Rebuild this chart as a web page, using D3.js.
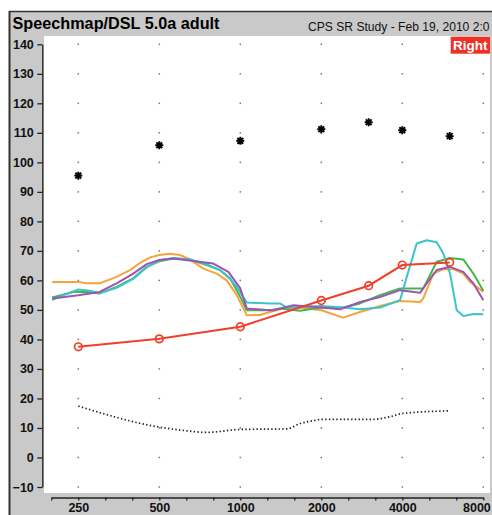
<!DOCTYPE html>
<html><head><meta charset="utf-8">
<script src="https://cdn.jsdelivr.net/npm/d3@7"></script>
<style>html,body{margin:0;padding:0;background:#fff;overflow:hidden}svg{display:block}</style>
</head><body>
<svg id="chart" width="492" height="515"></svg>
<script>
// ---------- data ----------
const titleText = "Speechmap/DSL 5.0a adult";
const subtitleText = "CPS SR Study - Feb 19, 2010 2:0";
const earLabel = "Right";
const yTicks = [-10,0,10,20,30,40,50,60,70,80,90,100,110,120,130,140];
const xLabels = [250,500,1000,2000,4000,8000];
const xMinorTicks = d3.range(-1,16).map(k => 250*Math.pow(2,k/3));

const orangeCurve = [[200,59.5],[250,59.5],[268,59.0],[300,59.0],[347,61.2],[389,63.5],[424,65.9],[462,67.8],[500,68.6],[548,69.0],[597,68.6],[650,67.1],[729,64.0],[817,62.3],[890,60.0],[970,55.0],[1057,48.2],[1184,48.3],[1290,49.3],[1404,50.2],[1667,50.8],[2000,49.9],[2414,47.4],[2786,49.3],[3306,51.3],[3923,53.0],[4656,52.7],[4788,53.9],[5217,62.3],[5682,63.8],[6190,63.8],[6742,62.3],[7140,59.5],[8000,56.1]];
const greenCurve = [[200,54.2],[240,56.1],[268,56.1],[300,55.6],[347,57.8],[400,60.7],[449,64.6],[500,66.5],[564,67.4],[650,67.1],[750,65.2],[840,63.5],[916,60.7],[1000,54.4],[1057,49.9],[1290,49.9],[1404,50.5],[1667,49.7],[2000,50.8],[2414,50.8],[2786,52.2],[3306,55.0],[3923,57.3],[4788,57.3],[5372,66.3],[6018,67.6],[6742,67.1],[7345,62.3],[8000,56.5]];
const cyanCurve = [[200,53.3],[220,55.0],[250,56.9],[276,56.5],[300,55.6],[347,57.5],[400,60.5],[449,64.5],[500,66.8],[564,67.6],[650,67.1],[750,65.5],[840,63.5],[916,60.5],[970,57.8],[1057,52.5],[1290,52.2],[1404,52.2],[1488,50.8],[2000,51.3],[2414,50.8],[2786,50.2],[3306,50.8],[3923,53.3],[4155,61.2],[4525,72.5],[4928,73.6],[5372,72.9],[5682,69.1],[6018,62.3],[6372,49.9],[6742,47.9],[7345,48.6],[8000,48.5]];
const purpleCurve = [[200,53.9],[250,55.0],[300,56.1],[347,59.0],[400,62.3],[449,65.5],[500,66.9],[564,67.4],[668,66.6],[794,65.7],[903,62.9],[1000,57.3],[1057,50.5],[1290,49.9],[1326,49.9],[1574,51.6],[2000,50.8],[2347,50.2],[2786,52.7],[3306,54.4],[3923,56.7],[4656,55.8],[4928,59.0],[5372,63.5],[6018,64.6],[6742,62.9],[7345,59.0],[8000,53.3]];
const targetFreqs = [250,500,1000,2000,3000,4000,6000];
const targetValues = [37.5,40.2,44.3,53.2,58.2,65.2,66.1];
const uclValues = [95.5,105.8,107.3,111.2,113.6,110.9,108.9];
const thresholdCurve = [[250,17.4],[500,10.3],[610,9.2],[750,8.5],[1000,9.5],[1490,9.7],[1667,11.5],[1874,12.5],[2000,12.9],[3055,12.9],[3600,13.8],[4000,14.9],[6000,15.8]];

// ---------- layout ----------
const svg = d3.select("#chart");
const plot = {x0:44, y0:36, x1:490, y1:493};
const x = d3.scaleLog().base(2).domain([250*Math.pow(2,-1/3), 8000]).range([51.3, 483.3]);
const y = d3.scaleLinear().domain([-10,140]).range([487, 44.3]);
const gray = "#c9c9c9";
const font = "Liberation Sans, Arial, sans-serif";

// frame
svg.append("rect").attr("x",9).attr("y",11).attr("width",490).attr("height",510).attr("fill",gray);
svg.append("line").attr("x1",9).attr("x2",492).attr("y1",11.5).attr("y2",11.5).attr("stroke","#333").attr("stroke-width",1.5);
svg.append("line").attr("x1",9.5).attr("x2",9.5).attr("y1",11).attr("y2",515).attr("stroke","#333").attr("stroke-width",2);
svg.append("rect").attr("x",plot.x0).attr("y",plot.y0).attr("width",plot.x1-plot.x0).attr("height",plot.y1-plot.y0).attr("fill","#fff");

// header text
svg.append("text").attr("x",12.5).attr("y",29).attr("font-family",font).attr("font-weight","bold").attr("font-size",16.5)
  .attr("textLength",207).attr("lengthAdjust","spacingAndGlyphs").attr("fill","#000").text(titleText);
svg.append("text").attr("x",308).attr("y",31).attr("font-family",font).attr("font-size",12.1)
  .attr("fill","#111").text(subtitleText);

// clip
svg.append("clipPath").attr("id","clip").append("rect").attr("x",plot.x0).attr("y",plot.y0).attr("width",plot.x1-plot.x0).attr("height",plot.y1-plot.y0);

// grid dots
const gridG = svg.append("g");
const gridPts = [];
xLabels.forEach(f => yTicks.forEach(v => gridPts.push([f,v])));
gridG.selectAll("rect").data(gridPts).join("rect")
  .attr("x", d => x(d[0]) - 0.75).attr("y", d => y(d[1]) - 0.75)
  .attr("width",1.5).attr("height",1.5).attr("fill","#777");

// axes
const yAxis = svg.append("g").attr("transform","translate(42.3,0)")
  .call(d3.axisLeft(y).tickValues(yTicks).tickSize(5).tickSizeOuter(0).tickFormat(d3.format("d")));
yAxis.selectAll("path,line").attr("stroke","#222").attr("stroke-width",1.3);
yAxis.selectAll("text").attr("font-family",font).attr("font-weight","bold").attr("font-size",12.5).attr("fill","#111").attr("x",-8.5);

const xAxis = svg.append("g").attr("transform","translate(0,497.5)")
  .call(d3.axisBottom(x).tickValues(xMinorTicks).tickSize(3).tickSizeOuter(0)
    .tickFormat(d => { const m = xLabels.find(v => Math.abs(v - d) < 1); return m ? String(m) : ""; }));
xAxis.selectAll("path,line").attr("stroke","#222").attr("stroke-width",1.3);
xAxis.selectAll("text").attr("font-family",font).attr("font-weight","bold").attr("font-size",12.5).attr("fill","#111").attr("y",14).attr("dy",0);
xAxis.selectAll("text").filter(d => Math.abs(d - 8000) < 1).attr("text-anchor","end").attr("dx",7);

// curves
const g = svg.append("g").attr("clip-path","url(#clip)");
const line = d3.line().x(d => x(d[0])).y(d => y(d[1]));
g.append("path").datum(thresholdCurve).attr("d", line.curve(d3.curveMonotoneX)).attr("fill","none")
  .attr("stroke","#222").attr("stroke-width",1.7).attr("stroke-dasharray","1.4 2.3");
line.curve(d3.curveLinear);
const curves = [[orangeCurve,"#f8a33a"],[greenCurve,"#44b54a"],[cyanCurve,"#3cc3cb"],[purpleCurve,"#9b56b3"]];
curves.forEach(([data,col]) => {
  g.append("path").datum(data).attr("d", line).attr("fill","none").attr("stroke",col).attr("stroke-width",2).attr("stroke-linejoin","round");
});
const targets = targetFreqs.map((f,i) => [f, targetValues[i]]);
g.append("path").datum(targets).attr("d", line).attr("fill","none").attr("stroke","#f0402a").attr("stroke-width",2);
g.selectAll("circle.t").data(targets).join("circle").attr("class","t")
  .attr("cx", d => x(d[0])).attr("cy", d => y(d[1])).attr("r",3.8)
  .attr("fill","none").attr("stroke","#f0402a").attr("stroke-width",1.7);

// asterisks
const star = "M-4,0H4M0,-4V4M-2.9,-2.9L2.9,2.9M-2.9,2.9L2.9,-2.9";
g.selectAll("path.ucl").data(targetFreqs.map((f,i) => [f, uclValues[i]])).join("path").attr("class","ucl")
  .attr("d", star).attr("transform", d => `translate(${x(d[0])},${y(d[1])})`)
  .attr("stroke","#000").attr("stroke-width",1.9).attr("fill","none");

// ear box
svg.append("rect").attr("x",450.7).attr("y",36.7).attr("width",39.3).attr("height",17).attr("fill","#ee3124");
svg.append("text").attr("x",470.3).attr("y",50.3).attr("text-anchor","middle").attr("font-family",font).attr("font-weight","bold").attr("font-size",13.5).attr("fill","#fff").text(earLabel);
</script>
</body></html>
